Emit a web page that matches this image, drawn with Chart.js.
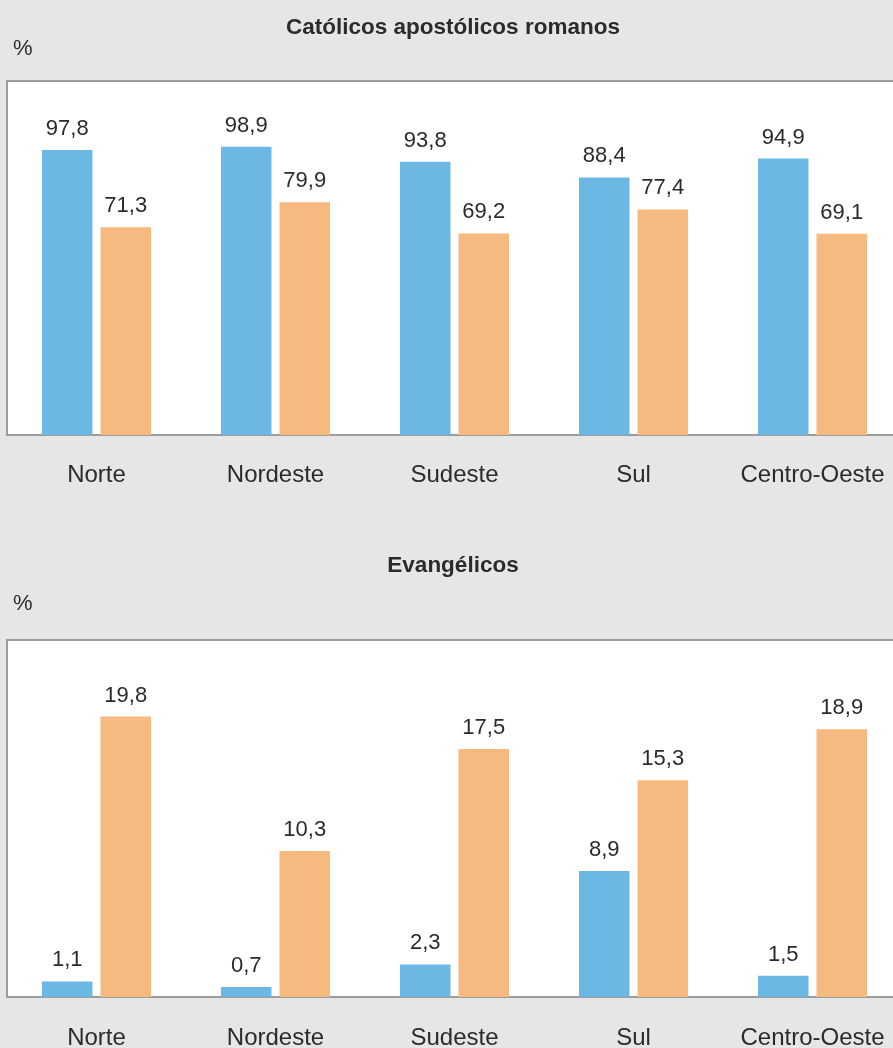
<!DOCTYPE html>
<html>
<head>
<meta charset="utf-8">
<script src="https://cdn.jsdelivr.net/npm/chart.js@4/dist/chart.umd.min.js"></script>
<style>
  html, body { margin: 0; padding: 0; background: #e6e6e7; overflow: hidden; }
  body { width: 893px; height: 1048px; position: relative; font-family: "Liberation Sans", Arial, sans-serif; color: #2b2b2b; }
  .box { position: absolute; left: 0; width: 902px; }
  canvas { display: block; }
  .title { position: absolute; left: 0; width: 906px; height: 30px; line-height: 30px; text-align: center; font-weight: bold; font-size: 22.5px; }
  .unit { position: absolute; left: 13px; height: 30px; line-height: 30px; font-size: 22px; }
</style>
</head>
<body>
<div class="box" style="top:0;height:520px"><canvas id="cat" width="902" height="520" style="width:902px;height:520px"></canvas></div>
<div class="title" style="top:12px">Católicos apostólicos romanos</div>
<div class="unit" style="top:33px">%</div>

<div class="box" style="top:560px;height:488px"><canvas id="evg" width="902" height="488" style="width:902px;height:488px"></canvas></div>
<div class="title" style="top:550px">Evangélicos</div>
<div class="unit" style="top:588px">%</div>

<script>
// Regions of Brazil
const regions = ['Norte', 'Nordeste', 'Sudeste', 'Sul', 'Centro-Oeste'];

// Católicos apostólicos romanos (%)
const catolicosAzul = [97.8, 98.9, 93.8, 88.4, 94.9];
const catolicosLaranja = [71.3, 79.9, 69.2, 77.4, 69.1];

// Evangélicos (%)
const evangelicosAzul = [1.1, 0.7, 2.3, 8.9, 1.5];
const evangelicosLaranja = [19.8, 10.3, 17.5, 15.3, 18.9];

// Upper bound of each value axis
const catolicosMax = 121.5;
const evangelicosMax = 25.2;

const BLUE = '#6cb8e4';
const ORANGE = '#f6b97f';
const TEXT = '#2b2b2b';
const FRAME = '#9c9c9c';

// White plot panel with a grey frame on the left, top and bottom
const panelPlugin = {
  id: 'panel',
  beforeDraw(chart) {
    const { ctx, chartArea: a } = chart;
    ctx.save();
    ctx.fillStyle = '#ffffff';
    ctx.fillRect(a.left, a.top, a.right - a.left, a.bottom - a.top);
    ctx.strokeStyle = FRAME;
    ctx.lineWidth = 2;
    ctx.beginPath();
    ctx.moveTo(a.right + 2, a.top);
    ctx.lineTo(a.left, a.top);
    ctx.lineTo(a.left, a.bottom);
    ctx.lineTo(a.right + 2, a.bottom);
    ctx.stroke();
    ctx.restore();
  }
};

// Value printed above every bar, with a decimal comma
const valuePlugin = {
  id: 'values',
  afterDatasetsDraw(chart) {
    const { ctx } = chart;
    ctx.save();
    ctx.fillStyle = TEXT;
    ctx.font = '22px "Liberation Sans", Arial, sans-serif';
    ctx.textAlign = 'center';
    ctx.textBaseline = 'alphabetic';
    chart.data.datasets.forEach((ds, i) => {
      chart.getDatasetMeta(i).data.forEach((bar, j) => {
        const txt = ds.data[j].toFixed(1).replace('.', ',');
        ctx.fillText(txt, bar.x, bar.y - 15);
      });
    });
    ctx.restore();
  }
};

function makeChart(id, azul, laranja, yMax, padTop, axisHeight, labelPad) {
  return new Chart(document.getElementById(id), {
    type: 'bar',
    data: {
      labels: regions,
      datasets: [
        { data: azul, backgroundColor: BLUE },
        { data: laranja, backgroundColor: ORANGE }
      ]
    },
    options: {
      responsive: false,
      animation: false,
      devicePixelRatio: 1,
      categoryPercentage: 0.654,
      barPercentage: 0.863,
      layout: {
        padding: { top: padTop, left: 7, right: 0, bottom: 0 }
      },
      plugins: { legend: { display: false }, tooltip: { enabled: false } },
      scales: {
        x: {
          grid: { display: false, drawTicks: false },
          border: { display: false },
          ticks: {
            color: TEXT,
            padding: labelPad,
            maxRotation: 0,
            autoSkip: false,
            font: { family: '"Liberation Sans", Arial, sans-serif', size: 24 }
          },
          afterFit(scale) {
            scale.height = axisHeight;
            scale.paddingLeft = 0;
            scale.paddingRight = 0;
          }
        },
        y: {
          display: false,
          min: 0,
          max: yMax
        }
      }
    },
    plugins: [panelPlugin, valuePlugin]
  });
}

makeChart('cat', catolicosAzul, catolicosLaranja, catolicosMax, 81, 85, 26);
makeChart('evg', evangelicosAzul, evangelicosLaranja, evangelicosMax, 80, 51, 27);
</script>
</body>
</html>
